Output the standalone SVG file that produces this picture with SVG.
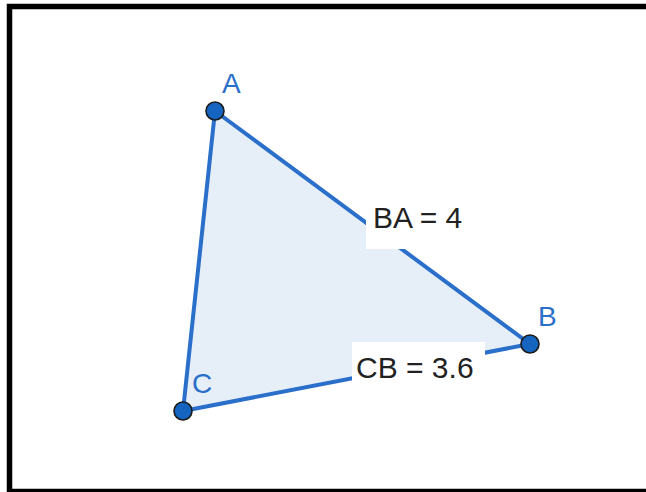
<svg xmlns="http://www.w3.org/2000/svg" width="646" height="492" viewBox="0 0 646 492">
<style>
.edge{stroke:#2a6fc9;stroke-width:4;fill:none;stroke-linecap:round}
.pt{fill:#1565c0;stroke:#1a1a1a;stroke-width:1.6}
.lbl{font-family:"Liberation Sans",Arial,sans-serif;font-size:28px;fill:#2a6fc9}
.val{font-family:"Liberation Sans",Arial,sans-serif;font-size:30px;fill:#222222}
</style>
<rect x="0" y="0" width="646" height="492" fill="#ffffff"/>
<rect x="9.5" y="6.5" width="660" height="485" fill="none" stroke="#000" stroke-width="5.5"/>
<polygon points="215,111 530,344 183,411" fill="#e6eef8"/>
<g id="connectors">
<line class="edge" x1="215" y1="111" x2="530" y2="344"/>
<line class="edge" x1="530" y1="344" x2="183" y2="411"/>
<line class="edge" x1="183" y1="411" x2="215" y2="111"/>
</g>
<g id="label-BA">
<rect x="366" y="196" width="104" height="53" fill="#ffffff"/>
<text class="val" x="373" y="228">BA = 4</text>
</g>
<g id="label-CB">
<rect x="352" y="342" width="133" height="48" fill="#ffffff"/>
<text class="val" x="356" y="378">CB = 3.6</text>
</g>
<g id="A">
<circle class="pt" cx="215" cy="111" r="9"/>
<text class="lbl" x="222" y="93">A</text>
</g>
<g id="B">
<circle class="pt" cx="530" cy="344" r="9"/>
<text class="lbl" x="538" y="326">B</text>
</g>
<g id="C">
<circle class="pt" cx="183" cy="411" r="9"/>
<text class="lbl" x="192" y="393">C</text>
</g>
</svg>
